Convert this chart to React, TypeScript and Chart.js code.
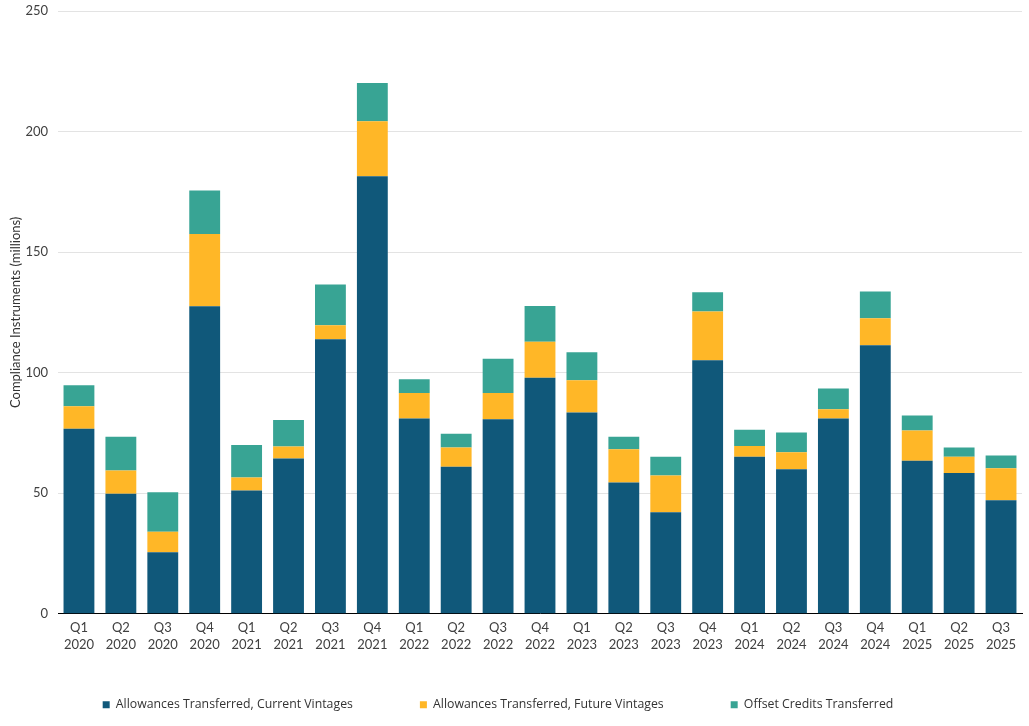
import React, { useEffect, useRef } from "react";
import { Chart, registerables } from "chart.js";

Chart.register(...registerables);

const quarters = ["Q1", "Q2", "Q3", "Q4", "Q1", "Q2", "Q3", "Q4", "Q1", "Q2", "Q3", "Q4", "Q1", "Q2", "Q3", "Q4", "Q1", "Q2", "Q3", "Q4", "Q1", "Q2", "Q3"];
const years = ["2020", "2020", "2020", "2020", "2021", "2021", "2021", "2021", "2022", "2022", "2022", "2022", "2023", "2023", "2023", "2023", "2024", "2024", "2024", "2024", "2025", "2025", "2025"];

const currentVintages = [76.7, 49.8, 25.5, 127.5, 51.1, 64.4, 113.8, 181.5, 81.0, 61.0, 80.7, 97.9, 83.5, 54.4, 42.1, 105.1, 65.1, 59.9, 81.0, 111.4, 63.4, 58.4, 47.1];
const futureVintages = [9.3, 9.6, 8.5, 30.0, 5.4, 5.0, 5.9, 22.8, 10.5, 7.9, 10.8, 14.9, 13.3, 13.8, 15.2, 20.3, 4.5, 7.1, 3.8, 11.2, 12.6, 6.7, 13.2];
const offsetCredits = [8.8, 14.0, 16.4, 18.0, 13.5, 10.9, 16.9, 15.8, 5.7, 5.7, 14.3, 14.8, 11.6, 5.2, 7.8, 7.9, 6.7, 8.2, 8.6, 11.1, 6.2, 3.8, 5.3];

const seriesNames = [
  "Allowances Transferred, Current Vintages",
  "Allowances Transferred, Future Vintages",
  "Offset Credits Transferred",
];
const seriesColors = ["#10587A", "#FFB727", "#38A494"];

const yTitle = "Compliance Instruments (millions)";

const legendShift = {
  id: "legendShift",
  afterLayout(chart: any) {
    const l = chart.legend;
    if (l) {
      l.left -= 13;
      l.right -= 13;
    }
  },
};

export default function App() {
  const ref = useRef<HTMLCanvasElement | null>(null);

  useEffect(() => {
    if (!ref.current) return;
    const labels = quarters.map((q, i) => [q, years[i]]);
    const values = [currentVintages, futureVintages, offsetCredits];
    const chart = new Chart(ref.current, {
      type: "bar",
      data: {
        labels,
        datasets: values.map((d, i) => ({
          label: seriesNames[i],
          data: d,
          backgroundColor: seriesColors[i],
          borderWidth: 0,
          categoryPercentage: 0.8,
          barPercentage: 0.92,
        })),
      },
      options: {
        animation: false,
        responsive: true,
        maintainAspectRatio: false,
        layout: { padding: { top: 11, right: 7, bottom: 5, left: 0 } },
        plugins: {
          tooltip: { enabled: false },
          legend: {
            position: "bottom",
            labels: {
              boxWidth: 7,
              boxHeight: 7,
              padding: 67,
              color: "#333333",
              font: { family: "Open Sans", size: 12.3 },
            },
          },
        },
        scales: {
          x: {
            stacked: true,
            grid: { display: false, drawTicks: false },
            border: { display: true, color: "#000000", width: 1 },
            ticks: {
              color: "#404040",
              padding: 6,
              maxRotation: 0,
              autoSkip: false,
              font: { family: "Lato", size: 13, lineHeight: 1.3 },
            },
            afterFit: (scale: any) => {
              scale.height = 18;
              scale._computeLabelArea = () => undefined;
            },
          },
          y: {
            stacked: true,
            min: 0,
            max: 250,
            grid: { color: "#E3E3E3", drawTicks: false },
            border: { display: false },
            ticks: {
              stepSize: 50,
              color: "#404040",
              padding: 10,
              font: { family: "Lato", size: 13 },
            },
            title: {
              display: true,
              text: yTitle,
              color: "#333333",
              padding: { top: 8, bottom: 4 },
              font: { family: "Lato", size: 13 },
            },
            afterFit: (scale: any) => {
              scale.width = 58;
              scale.paddingTop = 0;
              scale.paddingBottom = 0;
            },
          },
        },
      },
      plugins: [legendShift],
    });
    return () => chart.destroy();
  }, []);

  return (
    <div style={{ position: "fixed", left: 0, top: 0, width: 1029, height: 726, background: "#ffffff" }}>
      <canvas ref={ref} />
    </div>
  );
}
